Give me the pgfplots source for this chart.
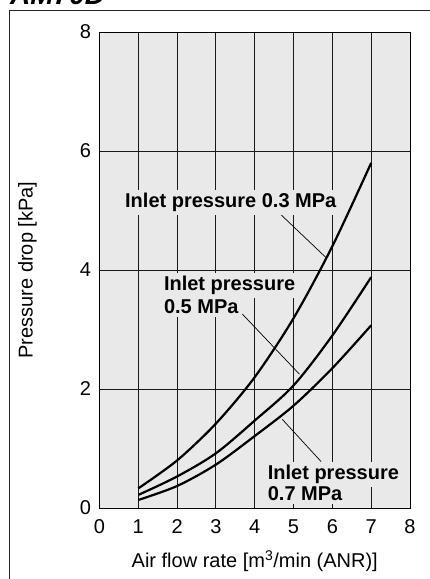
\documentclass[border=0pt]{standalone}
\usepackage{pgfplots}
\pgfplotsset{compat=1.18}
\usepackage{fontspec}
\setmainfont{Liberation Sans}
\definecolor{bggray}{RGB}{232,233,232}
\tikzset{lbl/.style={anchor=base west, fill=bggray, inner sep=3pt,
                     font=\bfseries\fontsize{20}{22}\selectfont}}

\begin{document}
\begin{tikzpicture}
  % page = 429 x 579 px; axis box sits at (99.5, 71) from the bottom left
  \useasboundingbox (-99.5pt,-71pt) rectangle (329.5pt,508pt);
  % outer frame and title (cut off at the top like the scan)
  \draw[line width=0.8pt, black!85] (-90pt,498pt) rectangle (360pt,-90pt);
  \node[anchor=base west, inner sep=0,
        font=\bfseries\itshape\fontsize{28}{30}\selectfont] at (-89.5pt,503pt) {AM70D};

  \begin{axis}[
    at={(0pt,0pt)}, anchor=south west,
    scale only axis,
    width=310.5pt, height=476pt,
    xmin=0, xmax=8, ymin=0, ymax=8,
    xtick={0,1,...,8}, ytick={0,2,4,6,8},
    grid=major,
    grid style={black!90, line width=0.9pt},
    axis line style={black, line width=0.9pt},
    major tick length=0pt,
    axis background/.style={fill=bggray},
    tick label style={font=\fontsize{20}{24}\selectfont},
    xticklabel style={yshift=-8pt},
    yticklabel style={xshift=-5pt},
    label style={font=\fontsize{20}{24}\selectfont},
    /pgf/number format/assume math mode=true,
    xlabel={Air flow rate [m\textsuperscript{3}/min (ANR)]},
    ylabel={Pressure drop [kPa]},
    xlabel style={at={(axis description cs:0.5,-0.126)}, anchor=base},
    ylabel style={at={(axis description cs:-0.232,0.5)}, anchor=center},
  ]

  % leader lines
  \draw[black, line width=0.7pt] (axis cs:4.61,4.97) -- (axis cs:5.85,4.20);
  \draw[black, line width=0.7pt] (axis cs:3.68,3.26) -- (axis cs:5.15,2.25);
  \draw[black, line width=0.7pt] (axis cs:4.71,1.49) -- (axis cs:5.71,0.78);

  % curve labels
  \node[lbl] at (axis cs:0.579,5.05) {Inlet pressure 0.3 MPa};
  \node[lbl] at (axis cs:1.58,3.65) {Inlet pressure};
  \node[lbl] at (axis cs:1.58,3.27) {0.5 MPa};
  \node[lbl] at (axis cs:4.255,0.48) {Inlet pressure};
  \node[lbl] at (axis cs:4.255,0.124) {0.7 MPa};

  % Inlet pressure 0.3 MPa
  \addplot[black, line width=2.2pt, smooth] coordinates {
    (1,0.33) (2,0.80) (3,1.42) (4,2.20) (5,3.19) (6,4.40) (7,5.80)
  };
  % Inlet pressure 0.5 MPa
  \addplot[black, line width=2.2pt, smooth] coordinates {
    (1,0.22) (2,0.53) (3,0.92) (4,1.47) (5,2.06) (6,2.90) (7,3.88)
  };
  % Inlet pressure 0.7 MPa
  \addplot[black, line width=2.2pt, smooth] coordinates {
    (1,0.135) (2,0.37) (3,0.73) (4,1.21) (5,1.72) (6,2.35) (7,3.07)
  };

  \end{axis}
\end{tikzpicture}
\end{document}
